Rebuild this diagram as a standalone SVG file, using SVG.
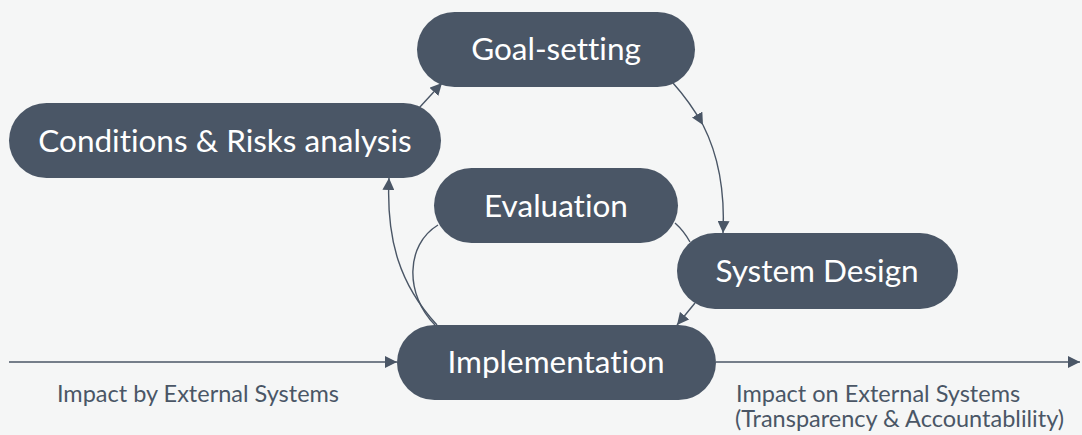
<svg xmlns="http://www.w3.org/2000/svg" width="1082" height="435" viewBox="0 0 1082 435">
<defs>
<marker id="ah" viewBox="0 0 10 10" refX="10" refY="5" markerWidth="12" markerHeight="12" markerUnits="userSpaceOnUse" orient="auto">
<path d="M0,0 L10,5 L0,10 z" fill="#4a5666"/>
</marker>
<style>
text{font-family:Lato,"Liberation Sans",sans-serif;font-variant-ligatures:none;font-weight:400;}
.node rect{fill:#4a5666;}
.node text{fill:#ffffff;font-size:31.5px;text-anchor:middle;}
.conn path{fill:none;stroke:#4a5666;stroke-width:1.4;}
.lbl{fill:#4a5666;font-size:23.5px;}
</style>
</defs>
<rect x="0" y="0" width="1082" height="435" fill="#f5f6f6"/>
<g id="connectors" class="conn">
<path d="M9,362 L397,362" marker-end="url(#ah)"/>
<path d="M716,362 L1080,362" marker-end="url(#ah)"/>
<path d="M419,108 L442,83" marker-end="url(#ah)"/>
<path d="M673,83 Q690,102 703,125" marker-end="url(#ah)"/>
<path d="M703,125 Q726,170 723,233" marker-end="url(#ah)"/>
<path d="M675,223 Q684,231 690,242"/>
<path d="M695,303 L677,325" marker-end="url(#ah)"/>
<path d="M437,325 C400,285 386,240 389,178" marker-end="url(#ah)"/>
<path d="M438,225 C405,245 405,295 435,325"/>
</g>
<g id="goal" class="node"><rect x="417" y="12" width="278" height="75" rx="37.5"/><text x="556" y="60">Goal-setting</text></g>
<g id="conditions" class="node"><rect x="9" y="103" width="432" height="75" rx="37.5"/><text x="225" y="152">Conditions &amp; Risks analysis</text></g>
<g id="evaluation" class="node"><rect x="434" y="168" width="244" height="75" rx="37.5"/><text x="556" y="217">Evaluation</text></g>
<g id="system" class="node"><rect x="677" y="233" width="281" height="76" rx="38"/><text x="817" y="282">System Design</text></g>
<g id="implementation" class="node"><rect x="397" y="325" width="319" height="75" rx="37.5"/><text x="556" y="372.5">Implementation</text></g>
<g id="labels">
<text class="lbl" x="198" y="402" text-anchor="middle">Impact by External Systems</text>
<text class="lbl" x="736" y="402">Impact on External Systems</text>
<text class="lbl" x="735" y="427">(Transparency &amp; Accountablility)</text>
</g>
</svg>
